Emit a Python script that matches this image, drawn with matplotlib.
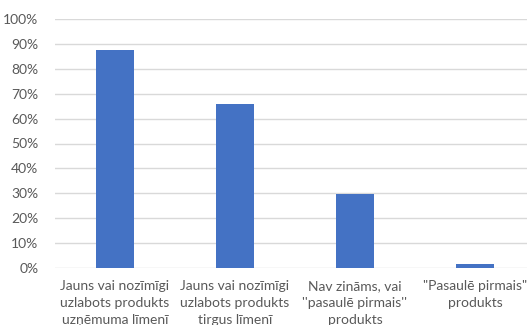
import matplotlib
matplotlib.use("Agg")
import matplotlib.pyplot as plt
from matplotlib.ticker import PercentFormatter

categories = ["Jauns vai nozīmīgi\nuzlabots produkts\nuzņēmuma līmenī",
              "Jauns vai nozīmīgi\nuzlabots produkts\ntirgus līmenī",
              "Nav zināms, vai\n''pasaulē pirmais''\nprodukts",
              "\"Pasaulē pirmais\"\nprodukts"]
values = [0.875, 0.658, 0.297, 0.018]
yticks = [0, 0.1, 0.2, 0.3, 0.4, 0.5, 0.6, 0.7, 0.8, 0.9, 1.0]

W, H = 527, 325
fig = plt.figure(figsize=(W/100, H/100), dpi=100)
ax = fig.add_axes([55/W, 57/H, 480/W, 249/H])

x = range(len(categories))
ax.bar(x, values, width=0.317, color='#4472C4', zorder=3)
ax.set_xlim(-0.5, len(categories) - 0.5)
ax.set_ylim(0, 1.0)
ax.set_yticks(yticks)
ax.yaxis.set_major_formatter(PercentFormatter(1.0, decimals=0))
ax.grid(axis='y', color='#d9d9d9', linewidth=1, zorder=0)
for s in ['top', 'right', 'left', 'bottom']:
    ax.spines[s].set_visible(False)
ax.tick_params(axis='both', length=0, colors='#595959', labelsize=10)
ax.tick_params(axis='y', pad=12)
ax.tick_params(axis='x', pad=9)
ax.set_xticks(list(x))
ax.set_xticklabels(categories, linespacing=1.45, va='top')
for t in ax.get_xticklabels() + ax.get_yticklabels():
    t.set_family(['Lato', 'DejaVu Sans'])
fig.savefig('out.png', dpi=100)
